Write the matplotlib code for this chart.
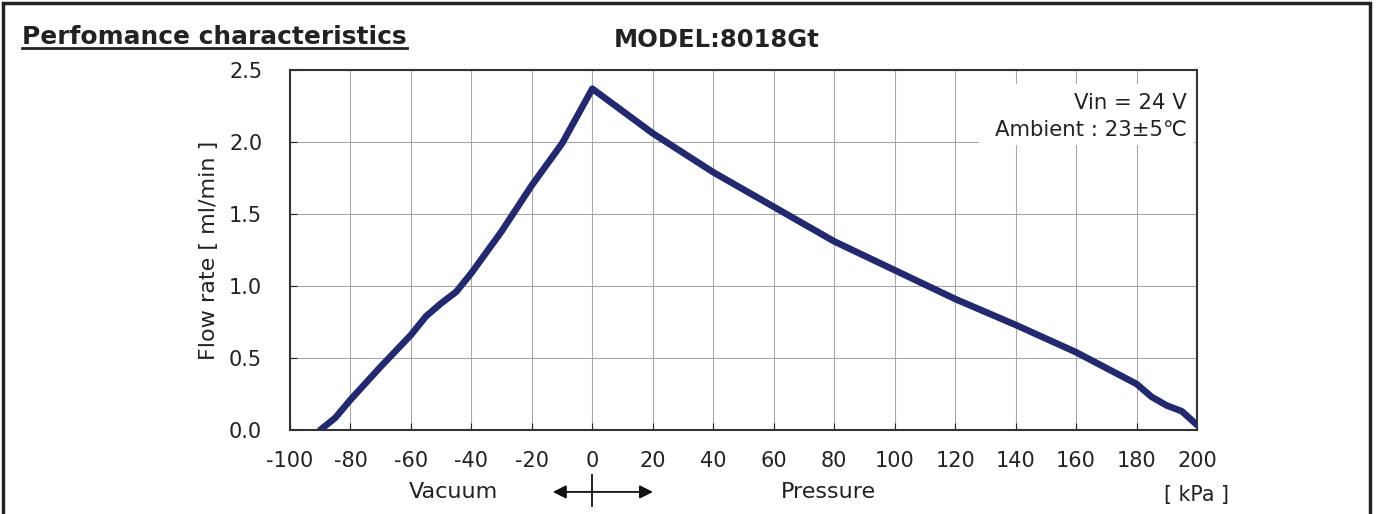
import matplotlib
matplotlib.use("Agg")
import matplotlib.pyplot as plt
from matplotlib.patches import Rectangle

plt.rcParams['font.family'] = ['DejaVu Sans', 'Noto Sans CJK JP']

pressure_kpa = [-90, -85, -80, -70, -65, -60, -55, -50, -45, -40, -30, -20, -10, 0,
                20, 40, 60, 80, 100, 120, 140, 160, 170, 180, 185, 190, 195, 200]
flow_ml_min = [0.0, 0.085, 0.21, 0.44, 0.55, 0.66, 0.79, 0.88, 0.96, 1.09, 1.38, 1.70, 1.99, 2.37,
               2.06, 1.79, 1.55, 1.31, 1.11, 0.91, 0.73, 0.54, 0.43, 0.32, 0.23, 0.17, 0.13, 0.035]
x_ticks = list(range(-100, 201, 20))
y_ticks = [0.0, 0.5, 1.0, 1.5, 2.0, 2.5]

fig = plt.figure(figsize=(13.77, 5.14), dpi=100)
ax = fig.add_axes([290/1377, 1-430/514, 907/1377, 360/514])

ax.plot(pressure_kpa, flow_ml_min, color='#23296e', lw=4.8, solid_capstyle='round', zorder=3)
ax.set_xlim(-100, 200)
ax.set_ylim(0, 2.5)
ax.set_xticks(x_ticks)
ax.set_xticklabels([str(v) for v in x_ticks])
ax.set_yticks(y_ticks)
ax.set_yticklabels([f"{v:.1f}" for v in y_ticks])
ax.grid(True, color='#a8a8a8', lw=0.8)
ax.set_axisbelow(True)
ax.tick_params(direction='in', length=5, labelsize=15, colors='#222222')
ax.tick_params(axis='y', pad=20)
ax.tick_params(axis='x', pad=15)
for s in ax.spines.values():
    s.set_color('#333333')
    s.set_linewidth(1.5)
ax.set_ylabel('Flow rate [ ml/min ]', fontsize=16, color='#222222', labelpad=7)

# condition box
ax.add_patch(Rectangle((128, 1.98), 71, 0.42, facecolor='white', edgecolor='none', zorder=2))
ax.text(196.5, 2.27, 'Vin = 24 V', ha='right', va='center', fontsize=15.3, color='#222222', zorder=4)
ax.text(196.5, 2.08, 'Ambient : 23\u00b15\u2103', ha='right', va='center', fontsize=15.3, color='#222222', zorder=4)

# bottom labels
ax.text(-46, -0.43, 'Vacuum', ha='center', va='center', fontsize=16, color='#222222', clip_on=False)
ax.text(78, -0.43, 'Pressure', ha='center', va='center', fontsize=16, color='#222222', clip_on=False)
ax.text(200, -0.45, '[ kPa ]', ha='center', va='center', fontsize=14.8, color='#222222', clip_on=False)
ax.annotate('', xy=(-14, -0.43), xytext=(21, -0.43), xycoords='data', textcoords='data',
            arrowprops=dict(arrowstyle='<|-|>', color='#111111', lw=1.3, mutation_scale=20),
            annotation_clip=False)
ax.plot([0, 0], [-0.31, -0.53], color='#111111', lw=1.3, clip_on=False)

# titles
t = fig.text(22/1377, 1-37/514, 'Perfomance characteristics', ha='left', va='center',
             fontsize=17.9, fontweight='bold', color='#222222')
fig.text(717/1377, 1-40/514, 'MODEL:8018Gt', ha='center', va='center',
         fontsize=17.5, fontweight='bold', color='#222222')
fig.canvas.draw()
bb = t.get_window_extent()
fig.add_artist(plt.Line2D([bb.x0/1377, bb.x1/1377], [1-48/514, 1-48/514], color='#222222', lw=2))

# outer frame
fig.add_artist(Rectangle((3/1377, -0.01), 1367/1377, 1-3/514+0.01, fill=False,
                         edgecolor='#222222', lw=2.5, transform=fig.transFigure))

fig.savefig('out.png', dpi=100)
